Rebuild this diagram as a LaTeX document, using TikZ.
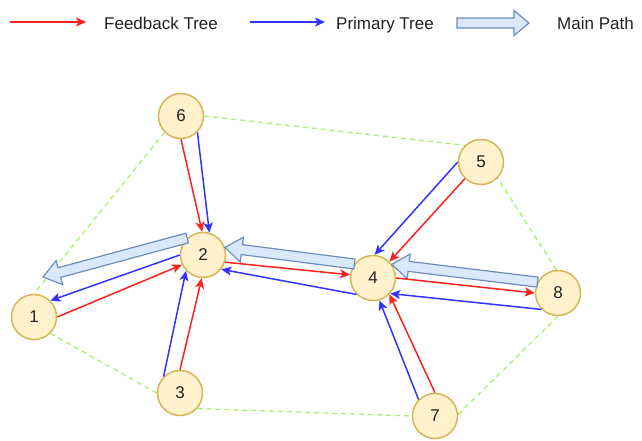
\documentclass[tikz,border=0pt]{standalone}
\usepackage{fontspec}
\setmainfont{Liberation Sans}
\usetikzlibrary{arrows.meta,calc}
\definecolor{nfill}{HTML}{FFF2CC}
\definecolor{ndraw}{HTML}{D6B656}
\definecolor{mfill}{HTML}{DAE8FC}
\definecolor{mdraw}{HTML}{6C8EBF}
\definecolor{fbred}{HTML}{FF2020}
\definecolor{ptblue}{HTML}{3333FF}
\definecolor{hullgreen}{HTML}{A8F070}
\definecolor{txt}{HTML}{222222}
\newcommand\blockarrow[3]{%
  \coordinate (ba-h) at ($(#2)!#3!(#1)$);
  \draw[mainp] ($(#1)!5pt!90:(#2)$) -- ($(ba-h)!5pt!90:(#2)$) -- ($(ba-h)!12.5pt!90:(#2)$) -- (#2)
    -- ($(ba-h)!12.5pt!-90:(#2)$) -- ($(ba-h)!5pt!-90:(#2)$) -- ($(#1)!5pt!-90:(#2)$) -- cycle;
}
\begin{document}
\begin{tikzpicture}[x=1pt,y=-1pt,
  nd/.style={circle,fill=nfill,draw=ndraw,line width=1.5pt,minimum size=45pt,inner sep=0pt,
    font=\fontsize{17}{17}\selectfont,text=txt},
  fb/.style={draw=fbred,line width=1.5pt,-{Stealth[length=10pt,width=9pt,inset=2.5pt]}},
  pt/.style={draw=ptblue,line width=1.5pt,-{Stealth[length=10pt,width=9pt,inset=2.5pt]}},
  hull/.style={draw=hullgreen,line width=1.3pt,dash pattern=on 5pt off 4pt},
  mainp/.style={fill=mfill,draw=mdraw,line width=1.2pt,line join=miter},
  lbl/.style={anchor=base west,inner sep=0pt,font=\fontsize{17}{17}\selectfont,text=txt}
]
\useasboundingbox (0,0) rectangle (642,440);

% legend
\coordinate (la1) at (10,22);
\coordinate (la2) at (86,22);
\coordinate (lb1) at (250,22);
\coordinate (lb2) at (325,22);
\coordinate (lc1) at (457,23);
\coordinate (lc2) at (529,23);
\draw[fb] (la1) -- (la2);
\draw[pt] (lb1) -- (lb2);
\blockarrow{lc1}{lc2}{15pt}
\node[lbl] (t1) at (104,29) {Feedback Tree};
\node[lbl] (t2) at (336,29) {Primary Tree};
\node[lbl] (t3) at (557,29) {Main Path};

% nodes
\node[nd] (n1) at (34,317) {1};
\node[nd] (n2) at (203,255) {2};
\node[nd] (n3) at (180,393) {3};
\node[nd] (n4) at (373,278) {4};
\node[nd] (n5) at (481,162) {5};
\node[nd] (n6) at (181,116) {6};
\node[nd] (n7) at (435,416) {7};
\node[nd] (n8) at (558,293) {8};

% hull
\draw[hull] (n6.0) -- (n5.134);
\draw[hull] (n6.225) -- (n1.90);
\draw[hull] (n1.315) -- (n3.180);
\draw[hull] (n3.318) -- (n7.180);
\draw[hull] (n7.4) -- (n8.270);
\draw[hull] (n8.94) -- (n5.316);

% main path
\coordinate (m1tip) at ($(n1)+(9,-40)$);
\blockarrow{n2.133}{m1tip}{17pt}
\blockarrow{n4.143}{n2.19}{17pt}
\blockarrow{n8.152}{n4.36}{17pt}

% trees
\draw[fb] (n6.270) -- (n2.92);
\draw[pt] (n6.315) -- (n2.74);
\draw[fb] (n1.0) -- (n2.205);
\draw[pt] (n2.180) -- (n1.45);
\draw[pt] (n3.135) -- (n2.223);
\draw[fb] (n3.90) -- (n2.267);
\draw[fb] (n2.342) -- (n4.172);
\draw[pt] (n4.225) -- (n2.322);
\draw[fb] (n4.0) -- (n8.180);
\draw[pt] (n8.225) -- (n4.318);
\draw[pt] (n5.180) -- (n4.86);
\draw[fb] (n5.226) -- (n4.45);
\draw[pt] (n7.135) -- (n4.286);
\draw[fb] (n7.90) -- (n4.315);
\end{tikzpicture}
\end{document}
